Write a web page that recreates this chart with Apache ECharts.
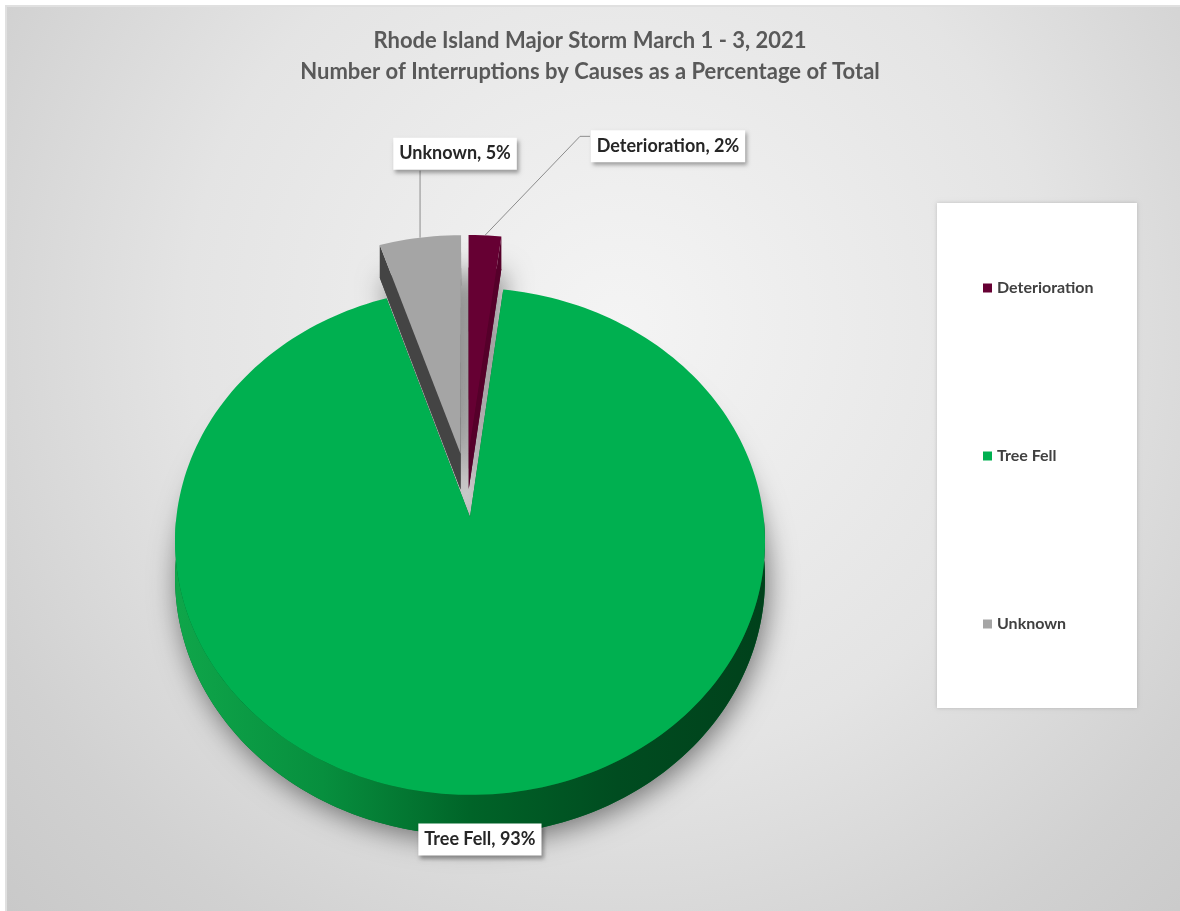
<!DOCTYPE html>
<html>
<head>
<meta charset="utf-8">
<title>Rhode Island Major Storm March 1 - 3, 2021</title>
<script src="https://cdn.jsdelivr.net/npm/echarts@6/dist/echarts.min.js"></script>
<style>
  html, body { margin: 0; padding: 0; background: #ffffff; }
  #chart { width: 1180px; height: 911px; }
</style>
</head>
<body>
<div id="chart"></div>
<script>
// ---- data ----
const categories = ['Deterioration', 'Tree Fell', 'Unknown'];
const shares = [2, 93, 5];               // percent of interruptions by cause
const sliceColors = ['#660033', '#00b050', '#a5a5a5'];
const titleLines = [
  'Rhode Island Major Storm March 1 - 3, 2021',
  'Number of Interruptions by Causes as a Percentage of Total'
];

// ---- layout of the tilted pie (pixels, plane units) ----
const PIE = { cx: 466.4, cy: 484.9, rx: 290, ry: 245, persp: 0.095, depth: 36, explode: 0.13 };
const FONT = 'Lato, "Open Sans", sans-serif';

// shading for the non-top faces of each slice
const SLICE_SHADE = [
  { cut: '#55002a', wall: ['#7a0a42', '#4a0024'] },
  { cut: '#006b2c', wall: ['#0fa64a', '#078f3e', '#006428', '#004c20', '#00411b'] },
  { cut: '#444444', wall: ['#8a8a8a', '#5a5a5a'] }
];

// label placement relative to the slice's outer-arc midpoint
const LABEL_PLACE = [
  { dx: 183, dy: -105, leader: [[0, 0], [95, -99], [105, -99]] },
  { dx: -21, dy: 30, leader: null },
  { dx: 35, dy: -100, leader: [[0, 0], [0, -67]] }
];

const RAD = Math.PI / 180;
const total = shares.reduce((a, b) => a + b, 0);
const startAngles = [];
shares.reduce((acc, v, i) => { startAngles[i] = acc / total * 360; return acc + v; }, 0);

// plane point (u right, v away from viewer) -> screen, optional drop to the lower rim
function project(u, v, drop) {
  const w = 1 + PIE.persp * v;
  return [PIE.cx + PIE.rx * u / w, PIE.cy - PIE.ry * v / w + (drop ? PIE.depth / w : 0)];
}

function renderSlice(params, api) {
  const i = params.seriesIndex;
  const value = api.value(0);
  const a0 = startAngles[i];
  const a1 = a0 + value / total * 360;
  const mid = (a0 + a1) / 2;
  const ou = PIE.explode * Math.sin(mid * RAD);
  const ov = PIE.explode * Math.cos(mid * RAD);
  const at = (deg, r, drop) => project(ou + r * Math.sin(deg * RAD), ov + r * Math.cos(deg * RAD), drop);
  const arc = (from, to, drop) => {
    const pts = [];
    const m = Math.max(2, Math.ceil(Math.abs(to - from) / 1.5));
    for (let j = 0; j <= m; j++) pts.push(at(from + (to - from) * j / m, 1, drop));
    return pts;
  };
  const shade = SLICE_SHADE[i];
  const topArc = arc(a0, a1, false);
  const botArc = arc(a0, a1, true);
  const cTop = at(0, 0, false);
  const cBot = at(0, 0, true);
  const children = [];

  // lower face, casting the soft drop shadow
  children.push({
    type: 'polygon', z2: 0,
    shape: { points: [cBot].concat(botArc) },
    style: { fill: shade.cut, shadowBlur: 28, shadowColor: 'rgba(0,0,0,0.5)', shadowOffsetX: 3, shadowOffsetY: 6 }
  });

  // outer rim, front half only
  const f0 = Math.max(a0, 90), f1 = Math.min(a1, 270);
  if (f1 > f0) {
    const stops = shade.wall.map((c, k) => ({ offset: k / (shade.wall.length - 1), color: c }));
    children.push({
      type: 'polygon', z2: 1,
      shape: { points: arc(f0, f1, false).concat(arc(f0, f1, true).reverse()) },
      style: { fill: { type: 'linear', x: 0, y: 0, x2: 1, y2: 0, colorStops: stops } }
    });
  }

  // radial cut faces
  [[topArc[0], botArc[0]], [topArc[topArc.length - 1], botArc[botArc.length - 1]]].forEach(([t, b]) => {
    children.push({
      type: 'polygon', z2: 2,
      shape: { points: [cTop, t, b, cBot] },
      style: { fill: shade.cut }
    });
  });

  // top face
  children.push({
    type: 'polygon', z2: 10,
    shape: { points: [cTop].concat(topArc) },
    style: { fill: api.visual('color') }
  });

  // data label with leader
  const anchor = at(mid, 1, false);
  const place = LABEL_PLACE[i];
  if (place.leader) {
    children.push({
      type: 'polyline', z2: 19,
      shape: { points: place.leader.map(p => [anchor[0] + p[0], anchor[1] + p[1]]) },
      style: { stroke: '#8c8c8c', lineWidth: 1, fill: null }
    });
  }
  children.push({
    type: 'text', z2: 20,
    style: {
      text: categories[i] + ', ' + value + '%',
      x: anchor[0] + place.dx, y: anchor[1] + place.dy,
      align: 'center', verticalAlign: 'top',
      fontFamily: FONT, fontSize: 18, fontWeight: 'bold', fill: '#262626',
      backgroundColor: '#ffffff', padding: [7, 6, 7, 6],
      shadowBlur: 4, shadowColor: 'rgba(0,0,0,0.35)', shadowOffsetX: 2, shadowOffsetY: 3
    }
  });

  return { type: 'group', children };
}

const chart = echarts.init(document.getElementById('chart'), null, { renderer: 'canvas' });

chart.setOption({
  animation: false,
  backgroundColor: '#ffffff',
  title: {
    text: titleLines.join('\n'),
    left: 'center', top: 25,
    padding: [0, 0, 0, 18],
    textStyle: { fontFamily: FONT, fontSize: 22, fontWeight: 'bold', color: '#595959', lineHeight: 31 }
  },
  graphic: [
    {
      type: 'rect', z: -10, silent: true,
      shape: { x: 6, y: 6, width: 1180, height: 910 },
      style: {
        fill: {
          type: 'radial', x: 0.52, y: 0.35, r: 0.95,
          colorStops: [
            { offset: 0, color: '#f4f4f4' },
            { offset: 0.5, color: '#e4e4e4' },
            { offset: 0.8, color: '#d1d1d1' },
            { offset: 1, color: '#c8c8c8' }
          ]
        },
        stroke: '#e0e0e0', lineWidth: 2
      }
    },
    {
      type: 'rect', z: -5, silent: true,
      shape: { x: 937, y: 203, width: 200, height: 505 },
      style: { fill: '#ffffff', shadowBlur: 4, shadowColor: 'rgba(0,0,0,0.18)' }
    }
  ],
  legend: {
    orient: 'vertical',
    left: 978, top: 275,
    icon: 'rect', itemWidth: 9, itemHeight: 9, itemGap: 152,
    selectedMode: false,
    data: categories,
    textStyle: { fontFamily: FONT, fontSize: 16, fontWeight: 'bold', color: '#404040' }
  },
  series: categories.map((name, i) => ({
    type: 'custom',
    name,
    coordinateSystem: 'none',
    silent: true,
    itemStyle: { color: sliceColors[i] },
    data: [{ name, value: shares[i] }],
    renderItem: renderSlice
  }))
});
</script>
</body>
</html>
